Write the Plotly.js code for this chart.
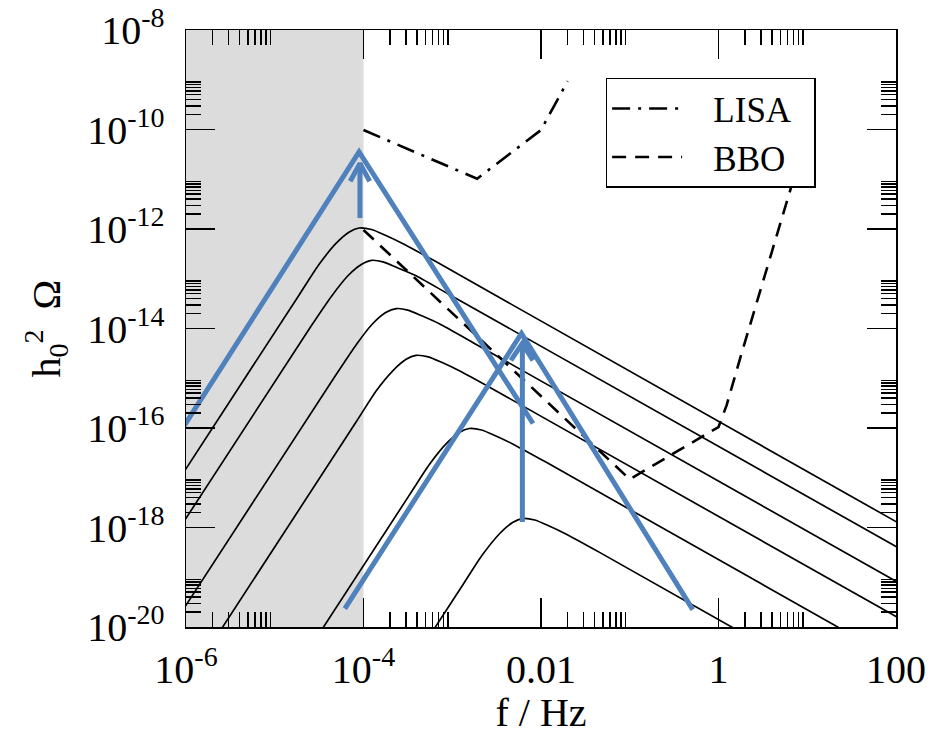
<!DOCTYPE html>
<html>
<head>
<meta charset="utf-8">
<script src="https://cdn.plot.ly/plotly-3.0.1.min.js"></script>
<style>
html,body{margin:0;padding:0;background:#fff;}
#chart{width:946px;height:735px;}
</style>
</head>
<body>
<div id="chart"></div>
<script>
// ---- Data (as log10 of f [Hz] and log10 of h0^2 Omega) ----
const logFreq1  = [-7, -4.72, -4.50, -4.31, -4.16, -4.05, -3.91, -3.76, -3.56, -3.18, 3];
const logOmega1 = [-19.56, -13.31, -12.71, -12.29, -12.06, -11.98, -12.01, -12.12, -12.29, -12.66, -18.89];

const logFreq2  = [-6.87, -4.59, -4.36, -4.17, -4.02, -3.91, -3.78, -3.63, -3.42, -3.05, 3.14];
const logOmega2 = [-20.20, -13.95, -13.35, -12.93, -12.71, -12.63, -12.66, -12.77, -12.93, -13.30, -19.53];

const logFreq3  = [-6.59, -4.31, -4.08, -3.90, -3.75, -3.63, -3.50, -3.35, -3.14, -2.77, 3.41];
const logOmega3 = [-21.18, -14.93, -14.32, -13.91, -13.68, -13.60, -13.63, -13.74, -13.91, -14.28, -20.50];

const logFreq4  = [-6.36, -4.08, -3.86, -3.67, -3.52, -3.41, -3.27, -3.12, -2.92, -2.54, 3.64];
const logOmega4 = [-22.12, -15.87, -15.26, -14.85, -14.62, -14.54, -14.57, -14.68, -14.85, -15.22, -21.44];

const logFreq5  = [-5.76, -3.48, -3.26, -3.07, -2.92, -2.81, -2.67, -2.52, -2.32, -1.94, 4.24];
const logOmega5 = [-23.59, -17.34, -16.74, -16.32, -16.09, -16.01, -16.04, -16.15, -16.32, -16.69, -22.92];

const logFreq6  = [-5.16, -2.88, -2.66, -2.47, -2.32, -2.21, -2.07, -1.92, -1.72, -1.34, 4.84];
const logOmega6 = [-25.40, -19.15, -18.55, -18.13, -17.90, -17.82, -17.85, -17.96, -18.13, -18.50, -24.73];

const lisaLogFreq  = [-4.0, -2.72, -2.0, -1.70];
const lisaLogOmega = [-10.01, -10.99, -10.01, -9.03];

const bboLogFreq  = [-4.0, -1.0, 0.0, 0.09, 0.27, 0.61, 0.82];
const bboLogOmega = [-12.02, -17.03, -15.98, -15.55, -14.44, -12.43, -11.15];

// blue overlay arrows
const arrow1LegsLogFreq   = [-6.04, -4.05, -2.09];
const arrow1LegsLogOmega  = [-16.01, -10.45, -15.91];
const arrow1ShaftLogFreq  = [-4.04, -4.04];
const arrow1ShaftLogOmega = [-11.78, -10.68];
const arrow1HeadLogFreq   = [-4.15, -4.04, -3.93];
const arrow1HeadLogOmega  = [-11.04, -10.68, -11.04];

const arrow2LegsLogFreq   = [-4.21, -2.22, -0.29];
const arrow2LegsLogOmega  = [-19.63, -14.10, -19.65];
const arrow2ShaftLogFreq  = [-2.21, -2.21];
const arrow2ShaftLogOmega = [-17.89, -14.30];
const arrow2HeadLogFreq   = [-2.34, -2.21, -2.09];
const arrow2HeadLogOmega  = [-14.64, -14.30, -14.64];

// legend names, shaded band (f range) and axis ticks
const seriesNames = ['LISA', 'BBO'];
const shadedFreqRange = [1e-6, 1e-4];
const xTickVals = [1e-6, 1e-4, 1e-2, 1, 100];
const xTickText = ['10<sup>-6</sup>', '10<sup>-4</sup>', '0.01', '1', '100'];
const yTickVals = [1e-20, 1e-18, 1e-16, 1e-14, 1e-12, 1e-10, 1e-8];
const yTickText = ['10<sup>-20</sup>', '10<sup>-18</sup>', '10<sup>-16</sup>', '10<sup>-14</sup>', '10<sup>-12</sup>', '10<sup>-10</sup>', '10<sup>-8</sup>'];
const minorMultipliers = [2, 3, 4, 5, 6, 7, 8, 9];
const xMinorDecades = [1e-6, 1e-4, 1e-2, 1];
const yMinorDecades = [1e-20, 1e-18, 1e-16, 1e-14, 1e-12, 1e-10];

// ---- Build ----
const pow10 = a => a.map(v => Math.pow(10, v));
const minorFrom = decs => decs.flatMap(d => minorMultipliers.map(m => m * d));

const FONT = 'Liberation Serif';
const BLUE = '#4f81bd';
const PAD_L = '\u00a0\u00a0\u00a0';
const PAD_R = '\u00a0\u00a0';

const traces = [];
[[logFreq1, logOmega1], [logFreq2, logOmega2], [logFreq3, logOmega3],
 [logFreq4, logOmega4], [logFreq5, logOmega5], [logFreq6, logOmega6]].forEach(([lf, lo]) => {
  traces.push({x: pow10(lf), y: pow10(lo), mode: 'lines', showlegend: false, hoverinfo: 'skip',
               line: {color: 'black', width: 1.7, shape: 'spline', smoothing: 0.6}});
});
traces.push({x: pow10(lisaLogFreq), y: pow10(lisaLogOmega), mode: 'lines', name: PAD_L + seriesNames[0] + PAD_R,
             line: {color: 'black', width: 2.6, dash: '18px,8px,3px,8px'}});
traces.push({x: pow10(bboLogFreq), y: pow10(bboLogOmega), mode: 'lines', name: PAD_L + seriesNames[1] + PAD_R,
             line: {color: 'black', width: 2.6, dash: '14px,9px'}});

[[arrow1LegsLogFreq, arrow1LegsLogOmega], [arrow1ShaftLogFreq, arrow1ShaftLogOmega], [arrow1HeadLogFreq, arrow1HeadLogOmega],
 [arrow2LegsLogFreq, arrow2LegsLogOmega], [arrow2ShaftLogFreq, arrow2ShaftLogOmega], [arrow2HeadLogFreq, arrow2HeadLogOmega]].forEach(([lf, lo]) => {
  traces.push({x: pow10(lf), y: pow10(lo), mode: 'lines', showlegend: false, hoverinfo: 'skip',
               line: {color: BLUE, width: 5}});
});

const axisCommon = {
  type: 'log', showgrid: false, zeroline: false,
  showline: true, linecolor: 'black', linewidth: 1.5, mirror: 'ticks',
  ticks: 'inside', ticklen: 29, tickwidth: 1.5, tickcolor: 'black',
  tickmode: 'array',
  tickfont: {family: FONT, size: 40, color: 'black'}
};

const layout = {
  width: 946, height: 735,
  margin: {l: 186, r: 50, t: 30, b: 108},
  paper_bgcolor: 'white', plot_bgcolor: 'white',
  font: {family: FONT, color: 'black'},
  xaxis: Object.assign({}, axisCommon, {
    range: [-6, 2], tickvals: xTickVals, ticktext: xTickText,
    ticklabelstandoff: 6,
    minor: {tickmode: 'array', tickvals: minorFrom(xMinorDecades), ticks: 'inside', ticklen: 15, tickwidth: 1.5, tickcolor: 'black', showgrid: false},
    title: {text: 'f / Hz', font: {family: FONT, size: 40, color: 'black'}, standoff: 16}
  }),
  yaxis: Object.assign({}, axisCommon, {
    range: [-20, -8], tickvals: yTickVals, ticktext: yTickText,
    ticklabelstandoff: 12,
    minor: {tickmode: 'array', tickvals: minorFrom(yMinorDecades), ticks: 'inside', ticklen: 15, tickwidth: 1.5, tickcolor: 'black', showgrid: false},
    title: {text: 'h<sub>0</sub><sup>2</sup>  Ω', font: {family: FONT, size: 40, color: 'black'}, standoff: 14}
  }),
  shapes: [{
    type: 'rect', xref: 'x', yref: 'paper', layer: 'below',
    x0: shadedFreqRange[0], x1: shadedFreqRange[1], y0: 0, y1: 1,
    fillcolor: '#dcdcdc', line: {width: 0}
  }],
  legend: {
    x: 0.591, y: 0.92, xanchor: 'left', yanchor: 'top',
    bgcolor: 'white', bordercolor: 'black', borderwidth: 1.5,
    font: {family: FONT, size: 35, color: 'black'},
    itemwidth: 70, tracegroupgap: 0
  },
  showlegend: true
};

Plotly.newPlot('chart', traces, layout, {displayModeBar: false, staticPlot: true});
</script>
</body>
</html>
